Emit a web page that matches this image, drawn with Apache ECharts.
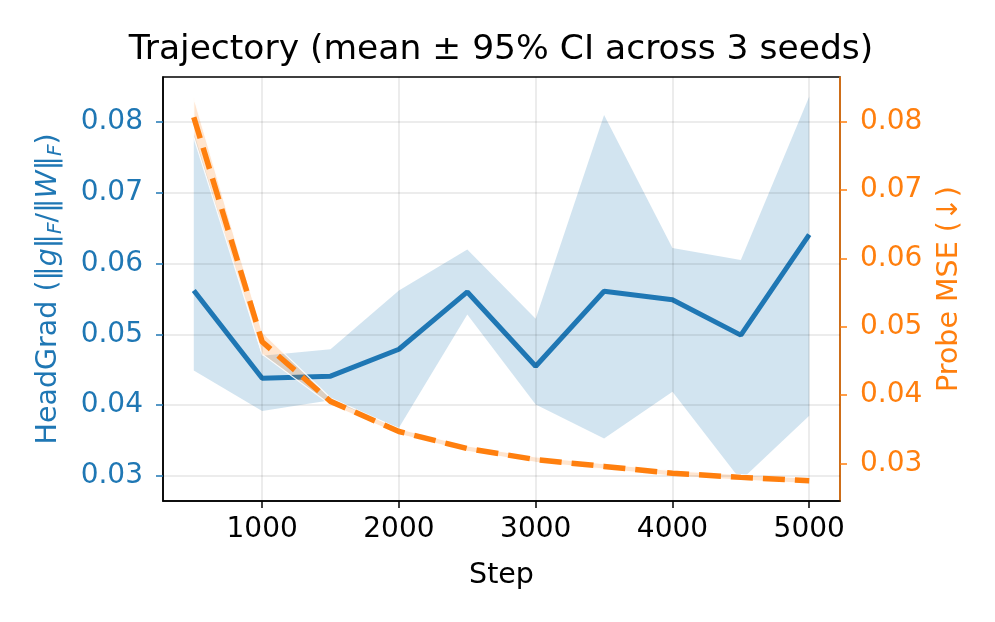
<!DOCTYPE html>
<html>
<head>
<meta charset="utf-8">
<script src="https://cdn.jsdelivr.net/npm/echarts@6/dist/echarts.min.js"></script>
<style>html,body{margin:0;padding:0;background:#fff}#c{width:995px;height:622px}</style>
</head>
<body>
<div id="c"></div>
<script>
var steps = [500, 1000, 1500, 2000, 2500, 3000, 3500, 4000, 4500, 5000];
var headMean = [0.0562, 0.0438, 0.0441, 0.0479, 0.0560, 0.0455, 0.0561, 0.0549, 0.0499, 0.0641];
var headLo   = [0.0449, 0.0392, 0.0407, 0.0368, 0.0528, 0.0401, 0.0353, 0.0419, 0.0294, 0.0385];
var headHi   = [0.0785, 0.0470, 0.0479, 0.0562, 0.0620, 0.0522, 0.0810, 0.0622, 0.0605, 0.0836];
var mseMean  = [0.0806, 0.0478, 0.0391, 0.0347, 0.0322, 0.0306, 0.0296, 0.0286, 0.0280, 0.0275];
var mseLo    = [0.0777, 0.0460, 0.0386, 0.0343, 0.0318, 0.0302, 0.0292, 0.0282, 0.0276, 0.0271];
var mseHi    = [0.0835, 0.0492, 0.0396, 0.0351, 0.0326, 0.0310, 0.0300, 0.0290, 0.0284, 0.0279];
var xTicks = [1000, 2000, 3000, 4000, 5000];
var yTicks = [0.03, 0.04, 0.05, 0.06, 0.07, 0.08];

var BLUE = '#1f77b4', ORANGE = '#ff7f0e';
var FONT = 'DejaVu Sans';
var FS = 28;
var NFS = 28.5;

function pairs(a) { return steps.map(function (s, i) { return [s, a[i]]; }); }
function bandData(lo, hi) { return steps.map(function (s, i) { return [s, lo[i], hi[i]]; }); }

function bandRenderer(lo, hi, fill, stroke) {
  return function (params, api) {
    if (params.dataIndex !== 0) return null;
    var pts = [];
    for (var i = 0; i < steps.length; i++) pts.push(api.coord([steps[i], hi[i]]));
    for (var j = steps.length - 1; j >= 0; j--) pts.push(api.coord([steps[j], lo[j]]));
    return {
      type: 'polygon',
      shape: {points: pts},
      style: {fill: fill, stroke: stroke || null, lineWidth: stroke ? 1.2 : 0}
    };
  };
}

var chart = echarts.init(document.getElementById('c'), null, {renderer: 'canvas'});
var gridColor = 'rgba(0,0,0,0.10)';
var gridLines = xTicks.map(function (v) { return {xAxis: v}; });
var yGridLines = yTicks.map(function (v) { return {yAxis: v}; });

chart.setOption({
  animation: false,
  backgroundColor: '#fff',
  title: {
    text: 'Trajectory (mean ± 95% CI across 3 seeds)',
    left: 496, textAlign: 'center', top: 28,
    textStyle: {fontFamily: FONT, fontSize: 34.5, fontWeight: 'normal', color: '#000'}
  },
  grid: {left: 163, right: 155, top: 77, bottom: 121, show: true, borderColor: '#000', borderWidth: 1.5, backgroundColor: 'transparent'},
  xAxis: {
    type: 'value', min: 275, max: 5225,
    name: 'Step', nameLocation: 'middle', nameGap: 60,
    nameTextStyle: {fontFamily: FONT, fontSize: NFS, color: '#000'},
    axisLine: {show: true, lineStyle: {color: '#000', width: 1.5}},
    axisTick: {show: true, customValues: xTicks, length: 7, lineStyle: {color: '#000', width: 1.5}},
    axisLabel: {customValues: xTicks, fontFamily: FONT, fontSize: FS, color: '#000', margin: 15,
      formatter: function (v) { return String(v); }},
    splitLine: {show: false}
  },
  yAxis: [{
    type: 'value', min: 0.02647, max: 0.08636, position: 'left',
    name: '{n|HeadGrad (‖}{i|g}{n|‖}{s|F}{n|/‖}{i|W}{n|‖}{s|F}{n|)}',
    nameLocation: 'middle', nameRotate: 90, nameGap: 97,
    nameTextStyle: {
      color: BLUE, fontFamily: FONT, fontSize: NFS,
      rich: {
        n: {color: BLUE, fontFamily: FONT, fontSize: NFS, lineHeight: 35, verticalAlign: 'middle'},
        i: {color: BLUE, fontFamily: FONT, fontSize: NFS, fontStyle: 'italic', lineHeight: 35, verticalAlign: 'middle'},
        s: {color: BLUE, fontFamily: FONT, fontSize: 20, fontStyle: 'italic', lineHeight: 35, verticalAlign: 'bottom'}
      }
    },
    axisLine: {show: true, lineStyle: {color: '#000', width: 1.5}},
    axisTick: {show: true, customValues: yTicks, length: 7, lineStyle: {color: BLUE, width: 1.5}},
    axisLabel: {customValues: yTicks, fontFamily: FONT, fontSize: FS, color: BLUE, margin: 20,
      padding: [3, 0, 0, 0],
      formatter: function (v) { return v.toFixed(2); }},
    splitLine: {show: false}
  }, {
    type: 'value', min: 0.02455, max: 0.08647, position: 'right',
    name: 'Probe MSE (↓)', nameLocation: 'middle', nameRotate: 90, nameGap: 95,
    nameTextStyle: {color: ORANGE, fontFamily: FONT, fontSize: NFS},
    axisLine: {show: true, lineStyle: {color: ORANGE, width: 1.5}},
    axisTick: {show: true, customValues: yTicks, length: 7, lineStyle: {color: ORANGE, width: 1.5}},
    axisLabel: {customValues: yTicks, fontFamily: FONT, fontSize: FS, color: ORANGE, margin: 20,
      padding: [3, 0, 0, 0],
      formatter: function (v) { return v.toFixed(2); }},
    splitLine: {show: false}
  }],
  series: [
    {type: 'custom', name: 'headBand', data: bandData(headLo, headHi), z: 1, silent: true,
      encode: {x: 0, y: [1, 2]},
      renderItem: bandRenderer(headLo, headHi, 'rgba(31,119,180,0.2)')},
    {type: 'line', name: 'grid', data: [], z: 2, silent: true,
      markLine: {silent: true, symbol: 'none', label: {show: false},
        lineStyle: {color: gridColor, width: 1.5, type: 'solid'},
        data: gridLines.concat(yGridLines)}},
    {type: 'line', name: 'headMean', data: pairs(headMean), symbol: 'none',
      lineStyle: {color: BLUE, width: 5}, z: 3, silent: true},
    {type: 'custom', name: 'mseBand', data: bandData(mseLo, mseHi), yAxisIndex: 1, z: 4, silent: true,
      encode: {x: 0, y: [1, 2]},
      renderItem: bandRenderer(mseLo, mseHi, 'rgba(255,127,14,0.2)', 'rgba(255,255,255,0.9)')},
    {type: 'line', name: 'mseMean', data: pairs(mseMean), yAxisIndex: 1, symbol: 'none',
      lineStyle: {color: ORANGE, width: 5.5, type: [22, 10]}, z: 5, silent: true}
  ]
});
</script>
</body>
</html>
